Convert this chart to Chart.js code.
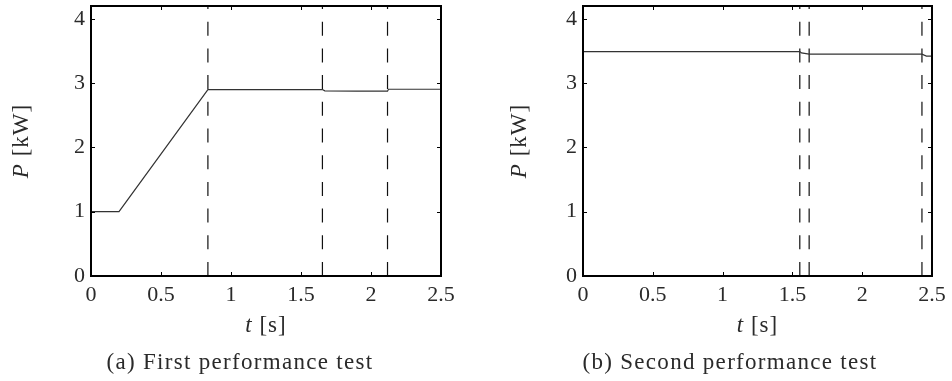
<!DOCTYPE html>
<html lang="en">
<head>
  <meta charset="UTF-8">
  <title>Performance tests</title>
  <script src="https://cdn.jsdelivr.net/npm/chart.js"></script>
  <style>
    body {
      margin: 0;
      background: #fff;
    }
    .row {
      display: flex;
      width: 952px;
      height: 381px;
    }
    canvas {
      display: block;
    }
  </style>
</head>
<body>
  <div class="row">
    <canvas id="chartA" width="476" height="381"></canvas>
    <canvas id="chartB" width="476" height="381"></canvas>
  </div>

  <script>
    // shared ticks
    const xTicks = [0, 0.5, 1, 1.5, 2, 2.5];
    const yTicks = [0, 1, 2, 3, 4];

    // (a) first performance test
    const tA = [0, 0.2, 0.835, 1.653, 1.67, 1.9, 2.118, 2.125, 2.5];
    const pA = [1, 1, 2.9, 2.9, 2.88, 2.875, 2.875, 2.905, 2.905];
    const marksA = [0.835, 1.653, 2.118];

    // (b) second performance test
    const tB = [0, 1.553, 1.565, 1.62, 2.428, 2.46, 2.5];
    const pB = [3.49, 3.49, 3.47, 3.45, 3.45, 3.42, 3.42];
    const marksB = [1.553, 1.62, 2.428];

    const FONT = '"Liberation Serif", "Times New Roman", serif';
    const TEXT = '#2a2a2a';

    // draw a string made of [text, italic] parts, centred at 0,0
    function mixedText(ctx, parts, size, spacing) {
      ctx.letterSpacing = (spacing || 0) + 'px';
      let widths = parts.map(([s, it]) => {
        ctx.font = (it ? 'italic ' : '') + size + 'px ' + FONT;
        return ctx.measureText(s).width;
      });
      let total = widths.reduce((a, b) => a + b, 0);
      let x = -total / 2;
      parts.forEach(([s, it], i) => {
        ctx.font = (it ? 'italic ' : '') + size + 'px ' + FONT;
        ctx.fillText(s, x, 0);
        x += widths[i];
      });
      ctx.letterSpacing = '0px';
    }

    const framePlugin = {
      id: 'frame',
      afterDraw(chart, args, opts) {
        const { ctx, chartArea: a, scales: { x, y } } = chart;
        ctx.save();
        ctx.strokeStyle = '#000';
        ctx.lineWidth = 1;
        xTicks.forEach(v => {
          const px = Math.round(x.getPixelForValue(v)) + 0.5;
          ctx.beginPath();
          ctx.moveTo(px, a.bottom); ctx.lineTo(px, a.bottom - 4);
          ctx.moveTo(px, a.top); ctx.lineTo(px, a.top + 4);
          ctx.stroke();
        });
        yTicks.forEach(v => {
          const py = Math.round(y.getPixelForValue(v)) + 0.5;
          ctx.beginPath();
          ctx.moveTo(a.left, py); ctx.lineTo(a.left + 4, py);
          ctx.moveTo(a.right, py); ctx.lineTo(a.right - 4, py);
          ctx.stroke();
        });
        ctx.lineWidth = 2;
        ctx.strokeRect(a.left, a.top, a.right - a.left, a.bottom - a.top);

        ctx.fillStyle = TEXT;
        ctx.textBaseline = 'middle';
        ctx.textAlign = 'left';
        // x title
        ctx.save();
        ctx.translate((a.left + a.right) / 2, 326);
        mixedText(ctx, [['t', true], [' [s]', false]], 23, 1);
        ctx.restore();
        // y title
        ctx.save();
        ctx.translate(opts.yTitleX, (a.top + a.bottom) / 2);
        ctx.rotate(-Math.PI / 2);
        mixedText(ctx, [['P', true], [' [kW]', false]], 23, 1);
        ctx.restore();
        // caption
        ctx.save();
        ctx.translate(opts.captionX, 363);
        mixedText(ctx, [[opts.caption, false]], 23, 1.3);
        ctx.restore();
        ctx.restore();
      }
    };

    function makeChart(id, t, p, marks, pad, left, yTitleX, captionX, caption) {
      const datasets = [{
        data: t.map((v, i) => ({ x: v, y: p[i] })),
        borderColor: '#333',
        borderWidth: 1.2,
        pointRadius: 0,
        tension: 0
      }];
      marks.forEach(m => {
        datasets.push({
          data: [{ x: m, y: 0 }, { x: m, y: 4.2 }],
          borderColor: '#111',
          borderWidth: 1.2,
          borderDash: [14, 12.7],
          pointRadius: 0
        });
      });

      return new Chart(document.getElementById(id), {
        type: 'line',
        data: { datasets },
        plugins: [framePlugin],
        options: {
          responsive: false,
          animation: false,
          devicePixelRatio: 1,
          layout: { padding: { top: 6, right: pad, left: 0, bottom: 0 } },
          plugins: {
            legend: { display: false },
            tooltip: { enabled: false },
            frame: { yTitleX, captionX, caption }
          },
          scales: {
            x: {
              type: 'linear',
              min: 0,
              max: 2.5,
              afterBuildTicks: s => { s.ticks = xTicks.map(v => ({ value: v })); },
              afterFit: s => { s.height = 105; s.paddingLeft = 0; s.paddingRight = 0; },
              grid: { display: false, drawTicks: false },
              border: { display: false },
              ticks: {
                autoSkip: false,
                maxRotation: 0,
                padding: 6,
                color: TEXT,
                font: { family: FONT, size: 22 },
                callback: v => String(v)
              }
            },
            y: {
              min: 0,
              max: 4.2,
              afterBuildTicks: s => { s.ticks = yTicks.map(v => ({ value: v })); },
              afterFit: s => { s.width = left; s.paddingTop = 0; s.paddingBottom = 0; },
              grid: { display: false, drawTicks: false },
              border: { display: false },
              ticks: {
                padding: 6,
                color: TEXT,
                font: { family: FONT, size: 22 },
                callback: v => String(v)
              }
            }
          }
        }
      });
    }

    makeChart('chartA', tA, pA, marksA, 35, 91, 22, 240, '(a) First performance test');
    makeChart('chartB', tB, pB, marksB, 20, 107, 44, 254, '(b) Second performance test');
  </script>
</body>
</html>
